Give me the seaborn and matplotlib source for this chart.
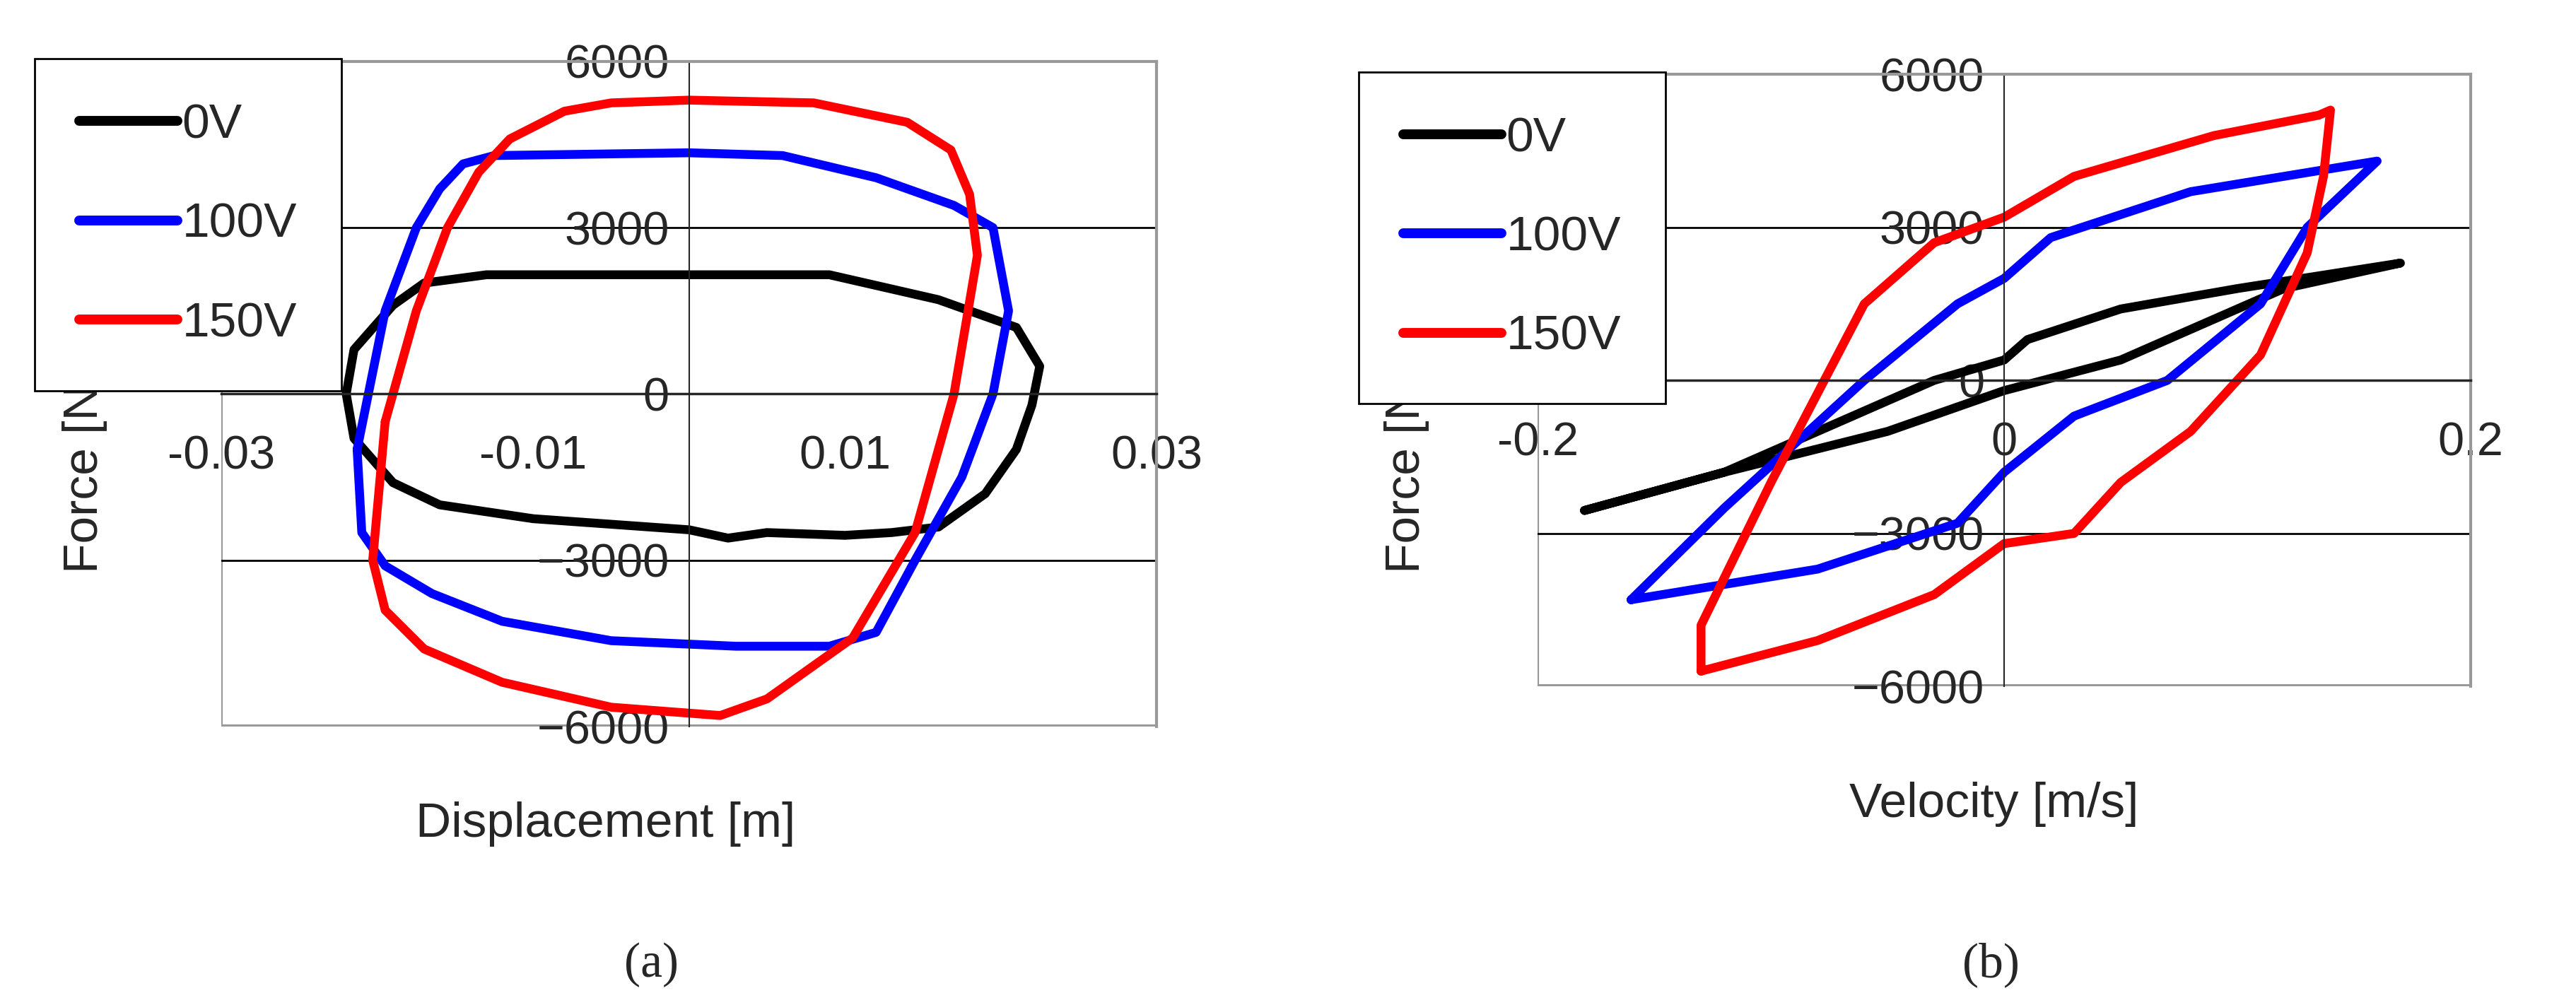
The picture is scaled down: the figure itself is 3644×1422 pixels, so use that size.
import numpy as np
import pandas as pd
import matplotlib
matplotlib.use("Agg")
import matplotlib.pyplot as plt
import seaborn as sns

sns.set_style("white")
plt.rcParams['font.family'] = ['Liberation Sans', 'DejaVu Sans']

labels = ["0V", "100V", "150V"]
colors = ["black", "blue", "red"]

# force vs displacement loops
disp_0 = [-0.022, -0.0215, -0.019, -0.017, -0.013, 0.0, 0.009, 0.016, 0.021, 0.0225, 0.022, 0.021, 0.019, 0.016, 0.013, 0.010, 0.005, 0.0025, 0.0, -0.01, -0.016, -0.019, -0.0215, -0.022]
force_d0 = [0, 800, 1600, 2000, 2150, 2150, 2150, 1700, 1200, 500, -200, -1000, -1800, -2400, -2500, -2550, -2500, -2600, -2450, -2250, -2000, -1600, -800, 0]
disp_100 = [-0.0213, -0.0195, -0.0175, -0.016, -0.0145, -0.0125, 0.0, 0.006, 0.012, 0.017, 0.0195, 0.0205, 0.0195, 0.0175, 0.0145, 0.012, 0.009, 0.003, -0.005, -0.012, -0.0165, -0.0195, -0.021, -0.0213]
force_d100 = [-1000, 1500, 3000, 3700, 4150, 4300, 4350, 4300, 3900, 3400, 3000, 1500, 0, -1500, -3000, -4300, -4550, -4550, -4450, -4100, -3600, -3100, -2500, -1000]
disp_150 = [-0.0195, -0.0175, -0.0155, -0.0135, -0.0115, -0.008, -0.005, 0.0, 0.008, 0.014, 0.0168, 0.018, 0.0185, 0.017, 0.0145, 0.0105, 0.0085, 0.005, 0.002, -0.005, -0.012, -0.017, -0.0195, -0.0203, -0.0195]
force_d150 = [-500, 1500, 3000, 4000, 4600, 5100, 5250, 5300, 5250, 4900, 4400, 3600, 2500, 0, -2500, -4400, -4800, -5500, -5800, -5650, -5200, -4600, -3900, -3000, -500]

# force vs velocity loops
vel_0 = [-0.18, -0.12, -0.05, 0.0, 0.05, 0.09, 0.12, 0.17, 0.10, 0.05, 0.01, 0.0, -0.03, -0.08, -0.12, -0.18]
force_v0 = [-2550, -1800, -1000, -200, 400, 1200, 1800, 2300, 1800, 1400, 800, 400, 0, -1000, -1800, -2550]
vel_100 = [-0.16, -0.12, -0.06, -0.02, 0.0, 0.02, 0.08, 0.16, 0.13, 0.11, 0.07, 0.03, 0.0, -0.02, -0.08, -0.16]
force_v100 = [-4300, -2500, 0, 1500, 2000, 2800, 3700, 4300, 3000, 1500, 0, -700, -1800, -2800, -3700, -4300]
vel_150 = [-0.13, -0.13, -0.10, -0.06, -0.03, 0.0, 0.03, 0.09, 0.135, 0.14, 0.137, 0.13, 0.11, 0.08, 0.05, 0.03, 0.0, -0.03, -0.08, -0.13]
force_v150 = [-5700, -4800, -2000, 1500, 2700, 3200, 4000, 4800, 5200, 5300, 4000, 2500, 500, -1000, -2000, -3000, -3200, -4200, -5100, -5700]

fig = plt.figure(figsize=(36.44, 14.22), dpi=100)
ax1 = fig.add_axes([0.086, 0.277, 0.363, 0.662])
ax2 = fig.add_axes([0.597, 0.317, 0.362, 0.609])

def draw(ax, xs, ys, xlim, xticks, xticklabels):
    for x, y, lab, c in zip(xs, ys, labels, colors):
        df = pd.DataFrame({"x": x, "y": y})
        sns.lineplot(data=df, x="x", y="y", sort=False, color=c, lw=9, label=lab, ax=ax, estimator=None)
    ax.set_xlim(*xlim)
    ax.set_ylim(-6000, 6000)
    ax.set_yticks([-6000, -3000, 0, 3000, 6000])
    ax.set_xticks(xticks)
    ax.set_xticklabels(xticklabels)
    ax.spines['left'].set_position(('data', 0))
    ax.spines['bottom'].set_position(('data', 0))
    for s in ['top', 'right']:
        ax.spines[s].set_color('#999999')
        ax.spines[s].set_linewidth(3)
    ax.spines['left'].set_linewidth(1.5)
    ax.spines['bottom'].set_linewidth(2.5)
    ax.axhline(-6000, color='#999999', lw=5, zorder=0)
    ax.axvline(xlim[0], color='#999999', lw=3, zorder=0)
    for yv in [-3000, 3000]:
        ax.axhline(yv, color='black', lw=2, zorder=0)
    ax.tick_params(labelsize=48, length=6, width=1.5, direction='out', pad=14)
    ax.tick_params(axis='x', pad=36)
    ax.set_xlabel("")
    ax.set_ylabel("")

draw(ax1, [disp_0, disp_100, disp_150], [force_d0, force_d100, force_d150],
     (-0.03, 0.03), [-0.03, -0.01, 0.01, 0.03], ["-0.03", "-0.01", "0.01", "0.03"])
draw(ax2, [vel_0, vel_100, vel_150], [force_v0, force_v100, force_v150],
     (-0.2, 0.2), [-0.2, 0, 0.2], ["-0.2", "0", "0.2"])

for ax, loc in [(ax1, (0.004, 0.966)), (ax2, (0.518, 0.953))]:
    ax.legend_.remove()
    h, l = ax.get_legend_handles_labels()
    leg = fig.legend(h, l, loc='upper left', bbox_to_anchor=loc, fontsize=50, frameon=True,
                     fancybox=False, edgecolor='black', handlelength=2.0, handletextpad=0.1,
                     labelspacing=1.1, borderpad=0.9, framealpha=1)
    leg.get_frame().set_linewidth(2)
    for line in leg.get_lines():
        line.set_linewidth(10)

fig.text(0.033, 0.53, "Force [N]", rotation=90, fontsize=50, ha='center', va='center')
fig.text(0.546, 0.53, "Force [N]", rotation=90, fontsize=50, ha='center', va='center')
fig.text(0.235, 0.18, "Displacement [m]", fontsize=50, ha='center', va='center')
fig.text(0.774, 0.2, "Velocity [m/s]", fontsize=50, ha='center', va='center')
fig.text(0.253, 0.04, "(a)", fontsize=50, ha='center', va='center', family='Liberation Serif')
fig.text(0.773, 0.04, "(b)", fontsize=50, ha='center', va='center', family='Liberation Serif')

fig.savefig("out.png", dpi=100, facecolor='white')
